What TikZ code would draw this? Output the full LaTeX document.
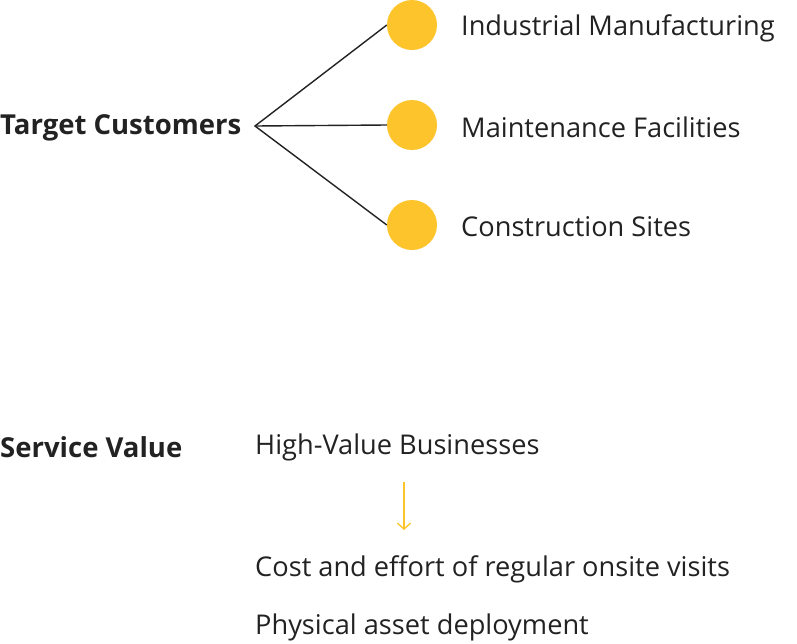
\documentclass[tikz,border=0pt]{standalone}
\usepackage{fontspec}
\setmainfont{Open Sans}
\usetikzlibrary{positioning,arrows.meta}
\definecolor{amber}{HTML}{FDC52B}
\definecolor{ink}{HTML}{222222}

\begin{document}
\begin{tikzpicture}[x=1pt, y=-1pt, >={Straight Barb[length=6pt,width=13pt]}]
  \tikzstyle{dot}=[circle, fill=amber, minimum size=50pt, inner sep=0pt]
  \tikzstyle{head}=[anchor=west, inner sep=0pt, text=ink, font=\fontsize{27.5}{32}\selectfont\bfseries]
  \tikzstyle{item}=[anchor=west, inner sep=0pt, text=ink, font=\fontsize{27.2}{32}\selectfont]
  \useasboundingbox (0,0) rectangle (797,643);

  % target customers
  \node[head] (tc) at (0,128) {Target Customers};
  \coordinate (hub) at (255,126);
  \node[dot] (c1) at (412,25) {};
  \node[dot] (c2) at (412,125) {};
  \node[dot] (c3) at (412,225) {};
  \node[item] (l1) at (461,28) {Industrial Manufacturing};
  \node[item] (l2) at (461,127) {Maintenance Facilities};
  \node[item] (l3) at (461,227) {Construction Sites};

  \draw[ink, line width=1.4pt] (c1.west) -- (hub) -- (c3.west);
  \draw[ink, line width=1.4pt] (hub) -- (c2.west);

  % service value
  \node[head] (sv) at (0,447) {Service Value};
  \node[item] (hv) at (255,447) {High-Value Businesses};
  \node[item] (cv) at (255,569) {Cost and effort of regular onsite visits};
  \node[item] (pa) at (255,627) {Physical asset deployment};
  \coordinate (a1) at (404,482);
  \coordinate (a2) at (404,530);
  \draw[->, amber, line width=1.3pt] (a1) -- (a2);
\end{tikzpicture}
\end{document}
